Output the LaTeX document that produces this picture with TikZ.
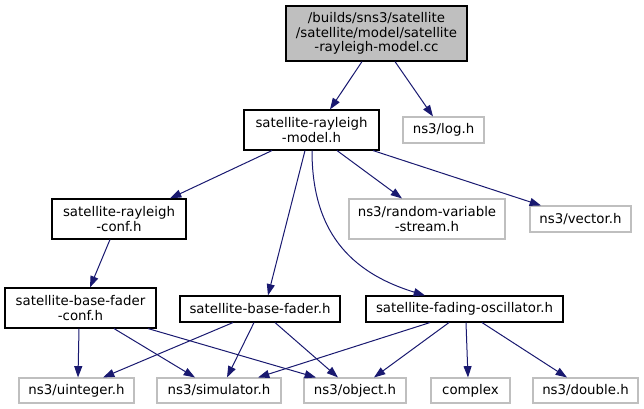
\documentclass[tikz,border=0pt]{standalone}
\usepackage{fontspec}
\setmainfont{DejaVu Sans}
\usetikzlibrary{arrows.meta,calc}
\definecolor{edgeblue}{HTML}{191970}
\definecolor{boxgray}{HTML}{BFBFBF}
\begin{document}
\begin{tikzpicture}[x=0.75pt,y=-0.75pt,
  every node/.style={font=\fontsize{10}{11}\selectfont, inner sep=0pt, align=center, rectangle},
  filebox/.style={draw=black, line width=0.85pt, fill=white},
  extbox/.style={draw=boxgray, line width=0.8pt, fill=white},
  rootbox/.style={draw=black, line width=0.85pt, fill=boxgray},
  dep/.style={draw=edgeblue, line width=0.75pt, -{Triangle[length=8.5pt,width=6pt]}, edgeblue}]
\useasboundingbox (0,0) rectangle (644,409);
% nodes
\node[rootbox, minimum width=135.75pt, minimum height=41.25pt] (root) at (376.5,33.5) {/builds/sns3/satellite\\/satellite/model/satellite\\-rayleigh-model.cc};
\node[filebox, minimum width=101.25pt, minimum height=30pt] (model) at (311.5,130) {satellite-rayleigh\\-model.h};
\node[extbox, minimum width=60.75pt, minimum height=19.5pt] (log) at (443.5,130) {ns3/log.h};
\node[filebox, minimum width=100.5pt, minimum height=30pt] (conf) at (119,219) {satellite-rayleigh\\-conf.h};
\node[extbox, minimum width=117pt, minimum height=30pt] (random) at (427,219) {ns3/random-variable\\-stream.h};
\node[extbox, minimum width=75.75pt, minimum height=19.5pt] (vector) at (580.5,219) {ns3/vector.h};
\node[filebox, minimum width=113.25pt, minimum height=30pt] (bfconf) at (80.5,308) {satellite-base-fader\\-conf.h};
\node[filebox, minimum width=120pt, minimum height=19.5pt] (bf) at (260,309) {satellite-base-fader.h};
\node[filebox, minimum width=147.75pt, minimum height=19.5pt] (fo) at (464.5,309) {satellite-fading-oscillator.h};
\node[extbox, minimum width=86.25pt, minimum height=18.75pt] (uint) at (76.5,390.5) {ns3/uinteger.h};
\node[extbox, minimum width=93pt, minimum height=18.75pt] (sim) at (219,390.5) {ns3/simulator.h};
\node[extbox, minimum width=76.5pt, minimum height=18.75pt] (obj) at (355,390.5) {ns3/object.h};
\node[extbox, minimum width=59.25pt, minimum height=18.75pt] (cplx) at (470.5,390.5) {complex};
\node[extbox, minimum width=78.75pt, minimum height=18.75pt] (dbl) at (585.5,390.5) {ns3/double.h};
% edges
\draw[dep] ($(root.south)+(-14.5,0)$) -- ($(model.north)+(18.5,0)$);
\draw[dep] ($(root.south)+(18.5,0)$) -- ($(log.north)+(-10.5,0)$);
\draw[dep] ($(model.south)+(-39.5,0)$) -- ($(conf.north)+(51,0)$);
\draw[dep] ($(model.south)+(-6.5,0)$) -- ($(bf.north)+(8,0)$);
\draw[dep] ($(model.south)+(0.5,0)$) .. controls ($(model.south)+(0.5,70)$) and ($(fo.north)+(-124.5,-26)$) .. ($(fo.north)+(-39.5,0)$);
\draw[dep] ($(model.south)+(25.5,0)$) -- ($(random.north)+(-25,0)$);
\draw[dep] ($(model.south)+(61.5,0)$) -- ($(vector.north)+(-39.5,0)$);
\draw[dep] ($(conf.south)+(-9,0)$) -- ($(bfconf.north)+(9.5,0)$);
\draw[dep] ($(bfconf.south)+(-1.5,0)$) -- ($(uint.north)+(1.5,0)$);
\draw[dep] ($(bfconf.south)+(33.5,0)$) -- ($(sim.north)+(-24,0)$);
\draw[dep] ($(bfconf.south)+(67.5,0)$) -- ($(obj.north)+(-39,0)$);
\draw[dep] ($(bf.south)+(-27,0)$) -- ($(uint.north)+(26.5,0)$);
\draw[dep] ($(bf.south)+(-6,0)$) -- ($(sim.north)+(8,0)$);
\draw[dep] ($(bf.south)+(15,0)$) -- ($(obj.north)+(-17,0)$);
\draw[dep] ($(fo.south)+(-34.5,0)$) -- ($(sim.north)+(39,0)$);
\draw[dep] ($(fo.south)+(-15.5,0)$) -- ($(obj.north)+(19,0)$);
\draw[dep] ($(fo.south)+(1.5,0)$) -- ($(cplx.north)+(-2.5,0)$);
\draw[dep] ($(fo.south)+(17.5,0)$) -- ($(dbl.north)+(-18.5,0)$);
\end{tikzpicture}
\end{document}
